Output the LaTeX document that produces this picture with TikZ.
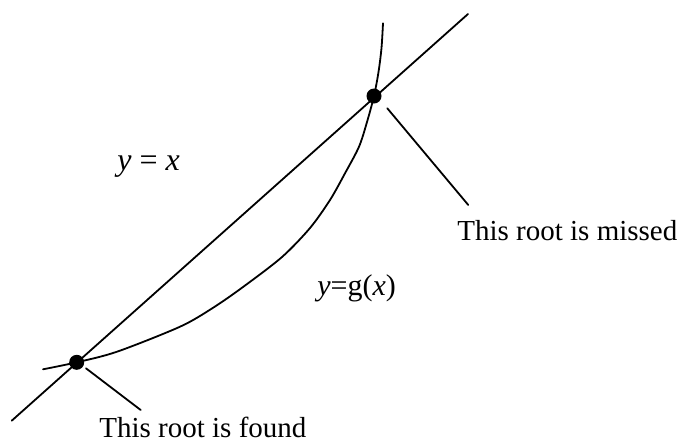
\documentclass[tikz,border=0pt]{standalone}
\usepackage{fontspec}
\setmainfont{Liberation Serif}
\begin{document}
\begin{tikzpicture}[x=0.5pt,y=-0.5pt,
  curve/.style={line width=0.9pt, line cap=round, line join=round},
  rootdot/.style={circle, fill=black, inner sep=0pt, minimum size=7.5pt},
  lbl/.style={inner sep=0pt, anchor=base west, font=\fontsize{14.5pt}{16pt}\selectfont},
  eqlbl/.style={inner sep=0pt, anchor=base west}]
\useasboundingbox (0,0) rectangle (680,441);
% y = x line
\coordinate (lA) at (11.7,420.7);
\coordinate (lB) at (468,14);
\draw[curve] (lA) -- (lB);
% g(x) curve
\draw[curve] plot[smooth, tension=0.5] coordinates {
 (43,369.3) (76.7,362.3) (117,351.7) (180,326.7) (212.7,308) (243,287)
 (282,257) (310,228) (330,200) (345,173.3) (359,146.7) (367,122)
 (374,96) (378.5,72) (381.5,48) (383,23.3)};
% roots
\node[rootdot] (r1) at (76.7,362.3) {};
\node[rootdot] (r2) at (374,96) {};
% labels
\node[eqlbl, font=\fontsize{16pt}{18pt}\selectfont] (lyx) at (117,170.7) {\textit{y} = \textit{x}};
\node[eqlbl, font=\fontsize{15pt}{17pt}\selectfont] (lyg) at (317,295) {\textit{y}=g(\textit{x})};
\node[lbl] (tfound) at (99,437) {This root is found};
\node[lbl] (tmissed) at (457,240) {This root is missed};
% pointer lines
\coordinate (p1a) at (86,368.3);
\coordinate (p1b) at (140.7,410);
\coordinate (p2a) at (387.3,108.3);
\coordinate (p2b) at (468.3,205);
\draw[curve] (p1a) -- (p1b);
\draw[curve] (p2a) -- (p2b);
\end{tikzpicture}
\end{document}
